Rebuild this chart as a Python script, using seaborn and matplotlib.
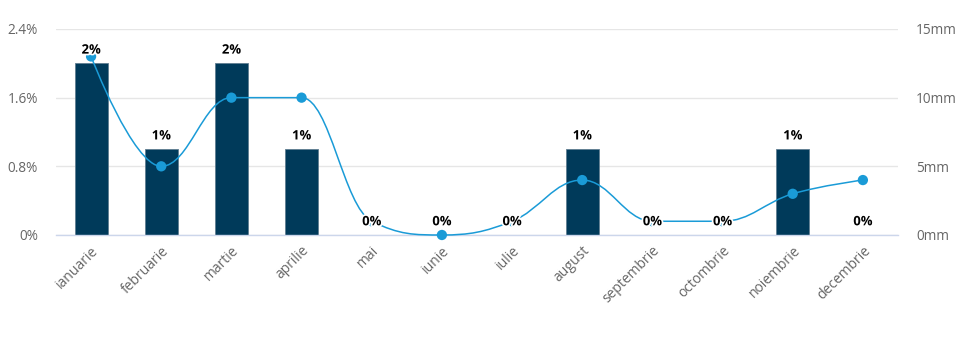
import numpy as np
import pandas as pd
import matplotlib
matplotlib.use("Agg")
import matplotlib.pyplot as plt
import matplotlib.patheffects as pe
from matplotlib.path import Path
from matplotlib.patches import PathPatch
from matplotlib.ticker import FixedLocator, FuncFormatter
import seaborn as sns

months = ["ianuarie", "februarie", "martie", "aprilie", "mai", "iunie",
          "iulie", "august", "septembrie", "octombrie", "noiembrie", "decembrie"]
share_pct = [2, 1, 2, 1, 0, 0, 0, 1, 0, 0, 1, 0]
rain_mm = [13, 5, 10, 10, 1, 0, 1, 4, 1, 1, 3, 4]
pct_ticks = [0, 0.8, 1.6, 2.4]
mm_ticks = [0, 5, 10, 15]

BAR = "#003a5a"
LINE = "#1a9bd7"
GRID = "#e6e6e6"
TICK = "#666666"

sns.set_theme(style="white")
plt.rcParams["font.family"] = ["Open Sans", "DejaVu Sans"]

df = pd.DataFrame({"month": months, "share": share_pct, "rain": rain_mm})


def spline_path(xs, ys, smoothing=1.5):
    """Smooth curve through the points, built from cubic Bezier segments."""
    denom = smoothing + 1
    n = len(xs)
    lc = [None] * n
    rc = [None] * n
    for i in range(1, n - 1):
        x, y = xs[i], ys[i]
        lx, ly = xs[i - 1], ys[i - 1]
        nx, ny = xs[i + 1], ys[i + 1]
        lcx = (smoothing * x + lx) / denom
        lcy = (smoothing * y + ly) / denom
        rcx = (smoothing * x + nx) / denom
        rcy = (smoothing * y + ny) / denom
        if rcx != lcx:
            corr = (rcy - lcy) * (rcx - x) / (rcx - lcx) + y - rcy
            lcy += corr
            rcy += corr
        if lcy > ly and lcy > y:
            lcy = max(ly, y)
            rcy = 2 * y - lcy
        elif lcy < ly and lcy < y:
            lcy = min(ly, y)
            rcy = 2 * y - lcy
        if rcy > ny and rcy > y:
            rcy = max(ny, y)
            lcy = 2 * y - rcy
        elif rcy < ny and rcy < y:
            rcy = min(ny, y)
            lcy = 2 * y - rcy
        lc[i] = (lcx, lcy)
        rc[i] = (rcx, rcy)
    verts = [(xs[0], ys[0])]
    codes = [Path.MOVETO]
    for i in range(1, n):
        c1 = rc[i - 1] if rc[i - 1] is not None else (xs[i - 1], ys[i - 1])
        c2 = lc[i] if lc[i] is not None else (xs[i], ys[i])
        verts += [c1, c2, (xs[i], ys[i])]
        codes += [Path.CURVE4] * 3
    return Path(verts, codes)


fig = plt.figure(figsize=(9.67, 3.37), dpi=100)
ax = fig.add_axes([0.0579, 0.3027, 0.8707, 0.6113])

sns.barplot(data=df, x="month", y="share", color=BAR, width=0.47,
            saturation=1, edgecolor="#5f7d91", linewidth=0.6, ax=ax, zorder=2)
ax.set_xlim(-0.5, len(months) - 0.5)
ax.set_ylim(0, 2.4)
ax.yaxis.set_major_locator(FixedLocator(pct_ticks))
ax.yaxis.set_major_formatter(FuncFormatter(lambda v, p: f"{v:g}%"))
ax.grid(axis="y", color=GRID, linewidth=1, zorder=0)
ax.set_axisbelow(True)
ax.set_xlabel("")
ax.set_ylabel("")
for s in ["top", "right", "left"]:
    ax.spines[s].set_visible(False)
ax.spines["bottom"].set_color("#ccd6eb")
ax.spines["bottom"].set_linewidth(1)
ax.tick_params(axis="y", length=0, pad=13, labelsize=9.8, labelcolor=TICK)
ax.tick_params(axis="x", length=0, pad=6, labelsize=10, labelcolor=TICK)
for lab in ax.get_xticklabels():
    lab.set_rotation(45)
    lab.set_ha("right")
    lab.set_rotation_mode("anchor")

ax2 = ax.twinx()
ax2.set_ylim(0, 15)
ax2.yaxis.set_major_locator(FixedLocator(mm_ticks))
ax2.yaxis.set_major_formatter(FuncFormatter(lambda v, p: f"{v:g}mm"))
ax2.tick_params(axis="y", length=0, pad=13, labelsize=9.8, labelcolor=TICK)
for s in ax2.spines.values():
    s.set_visible(False)

xs = np.arange(len(months), dtype=float)
ax2.add_patch(PathPatch(spline_path(xs, np.array(rain_mm, dtype=float)),
                        facecolor="none", edgecolor=LINE, linewidth=1.1,
                        zorder=3, clip_on=False))
sns.scatterplot(x=xs, y=rain_mm, color=LINE, s=55, edgecolor="none",
                ax=ax2, zorder=4, clip_on=False, legend=False)
ax2.set_xlim(-0.5, len(months) - 0.5)

for i, v in enumerate(share_pct):
    ax2.annotate(f"{v}%", xy=(i, v * 15 / 2.4), xytext=(0, 9.5),
                 textcoords="offset points", ha="center", va="center",
                 fontsize=9.4, fontweight="bold", color="black", zorder=6,
                 path_effects=[pe.withStroke(linewidth=2.5, foreground="white")])

fig.savefig("out.png", dpi=100)
